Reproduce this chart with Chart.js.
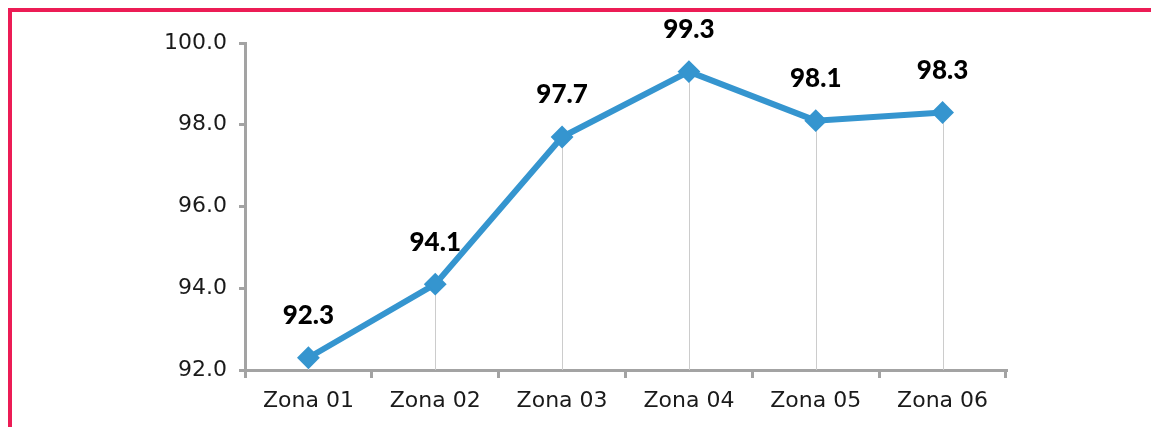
<!DOCTYPE html>
<html>
<head>
<meta charset="utf-8">
<script src="https://cdn.jsdelivr.net/npm/chart.js@4.4.1/dist/chart.umd.min.js"></script>
<style>
html, body { margin: 0; padding: 0; background: #fff; overflow: hidden; }
.frame {
  position: absolute;
  left: 8px; top: 8px;
  width: 1143px; height: 419px;
  border-top: 4px solid #ec1c55;
  border-left: 4px solid #ec1c55;
}
.frame canvas { display: block; }
</style>
</head>
<body>
<div class="frame">
  <canvas id="zoneChart" width="1139" height="415"></canvas>
</div>
<script>
// zones and their values
const zones = ["Zona 01", "Zona 02", "Zona 03", "Zona 04", "Zona 05", "Zona 06"];
const values = [92.3, 94.1, 97.7, 99.3, 98.1, 98.3];
const yTicks = [92, 94, 96, 98, 100];

const axisGray = "#a3a3a3";
const lineBlue = "#3595cf";

// thin vertical lines from each point down to the x axis
const dropLines = {
  id: "dropLines",
  beforeDatasetsDraw(chart) {
    const { ctx, chartArea } = chart;
    const pts = chart.getDatasetMeta(0).data;
    ctx.save();
    ctx.strokeStyle = "#cccccc";
    ctx.lineWidth = 1;
    pts.forEach(p => {
      const x = Math.round(p.x) + 0.5;
      ctx.beginPath();
      ctx.moveTo(x, p.y);
      ctx.lineTo(x, chartArea.bottom);
      ctx.stroke();
    });
    ctx.restore();
  }
};

// bold value labels above the markers
const valueLabels = {
  id: "valueLabels",
  afterDatasetsDraw(chart) {
    const { ctx } = chart;
    const pts = chart.getDatasetMeta(0).data;
    ctx.save();
    ctx.font = "900 26px Lato";
    ctx.fillStyle = "#000";
    ctx.textAlign = "center";
    ctx.textBaseline = "middle";
    pts.forEach((p, i) => {
      ctx.fillText(values[i].toFixed(1), p.x, p.y - 42);
    });
    ctx.restore();
  }
};

new Chart(document.getElementById("zoneChart"), {
  type: "line",
  data: {
    labels: zones,
    datasets: [{
      data: values,
      borderColor: lineBlue,
      backgroundColor: lineBlue,
      borderWidth: 6,
      tension: 0,
      pointStyle: "rectRot",
      pointRadius: 10,
      pointBorderWidth: 2,
      pointBackgroundColor: lineBlue,
      pointBorderColor: lineBlue
    }]
  },
  options: {
    responsive: false,
    animation: false,
    layout: { padding: { left: 0, right: 145, top: 31, bottom: 0 } },
    plugins: {
      legend: { display: false },
      tooltip: { enabled: false }
    },
    scales: {
      x: {
        type: "category",
        offset: true,
        grid: {
          offset: true,
          drawOnChartArea: false,
          drawTicks: true,
          tickLength: 8,
          color: axisGray,
          lineWidth: 3
        },
        border: { color: axisGray, width: 3 },
        ticks: {
          color: "#1a1a1a",
          font: { family: "DejaVu Sans", size: 22 },
          padding: 10,
          maxRotation: 0
        },
        afterFit(scale) { scale.height = 57; }
      },
      y: {
        min: 92,
        max: 100,
        afterBuildTicks(scale) {
          scale.ticks = yTicks.map(v => ({ value: v }));
        },
        grid: {
          drawOnChartArea: false,
          drawTicks: true,
          tickLength: 6,
          color: axisGray,
          lineWidth: 3
        },
        border: { color: axisGray, width: 3 },
        ticks: {
          color: "#1a1a1a",
          font: { family: "DejaVu Sans", size: 22 },
          padding: 12,
          callback: v => Number(v).toFixed(1)
        },
        afterFit(scale) { scale.width = 233; }
      }
    }
  },
  plugins: [dropLines, valueLabels]
});
</script>
</body>
</html>
